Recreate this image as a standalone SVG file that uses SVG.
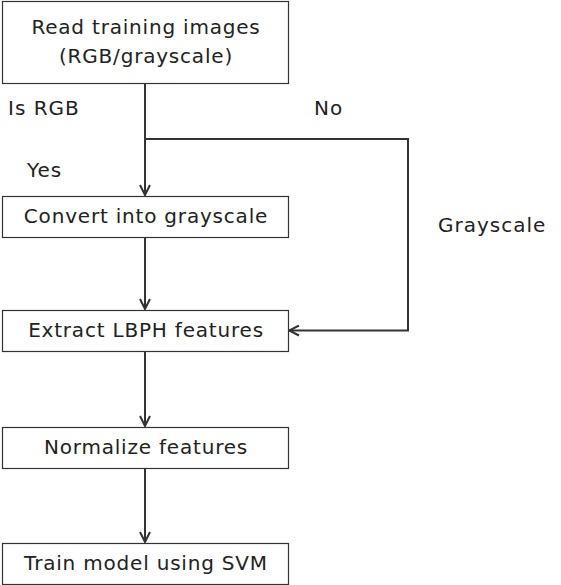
<svg xmlns="http://www.w3.org/2000/svg" width="561" height="585" viewBox="0 0 561 585">
<style>
.box{fill:#fff;stroke:#333;stroke-width:1.2}
.t{font-family:"DejaVu Sans",sans-serif;font-size:20px;letter-spacing:0.8px;fill:#222;text-anchor:middle}
.l{font-family:"DejaVu Sans",sans-serif;font-size:20px;letter-spacing:1px;fill:#222}
.c{fill:none;stroke:#333;stroke-width:2}
</style>
<defs>
<marker id="a" viewBox="0 0 12 12" refX="11" refY="6" markerWidth="12" markerHeight="12" markerUnits="userSpaceOnUse" orient="auto">
<path d="M1,1 L11,6 L1,11" fill="none" stroke="#333" stroke-width="2"/>
</marker>
</defs>
<rect width="561" height="585" fill="#fff"/>
<g id="connectors">
<line class="c" x1="145" y1="83" x2="145" y2="195" marker-end="url(#a)"/>
<polyline class="c" points="145,139 408,139 408,330.5 289,330.5" marker-end="url(#a)"/>
<line class="c" x1="145" y1="237" x2="145" y2="309" marker-end="url(#a)"/>
<line class="c" x1="145" y1="351" x2="145" y2="426" marker-end="url(#a)"/>
<line class="c" x1="145" y1="468" x2="145" y2="542" marker-end="url(#a)"/>
</g>
<g id="n1"><rect class="box" x="2.5" y="1.5" width="286" height="82"/>
<text class="t" x="146" y="34">Read training images</text>
<text class="t" x="146" y="63">(RGB/grayscale)</text></g>
<g id="n2"><rect class="box" x="2.5" y="196.5" width="286" height="41"/>
<text class="t" x="146" y="223">Convert into grayscale</text></g>
<g id="n3"><rect class="box" x="2.5" y="310.5" width="286" height="41"/>
<text class="t" x="146" y="337">Extract LBPH features</text></g>
<g id="n4"><rect class="box" x="2.5" y="427.5" width="286" height="41"/>
<text class="t" x="146" y="454">Normalize features</text></g>
<g id="n5"><rect class="box" x="2.5" y="543.5" width="286" height="41"/>
<text class="t" x="146" y="570">Train model using SVM</text></g>
<g id="labels">
<text class="l" x="8" y="115">Is RGB</text>
<text class="l" x="314" y="115">No</text>
<text class="l" x="27" y="177">Yes</text>
<text class="l" x="438" y="232">Grayscale</text>
</g>
</svg>
